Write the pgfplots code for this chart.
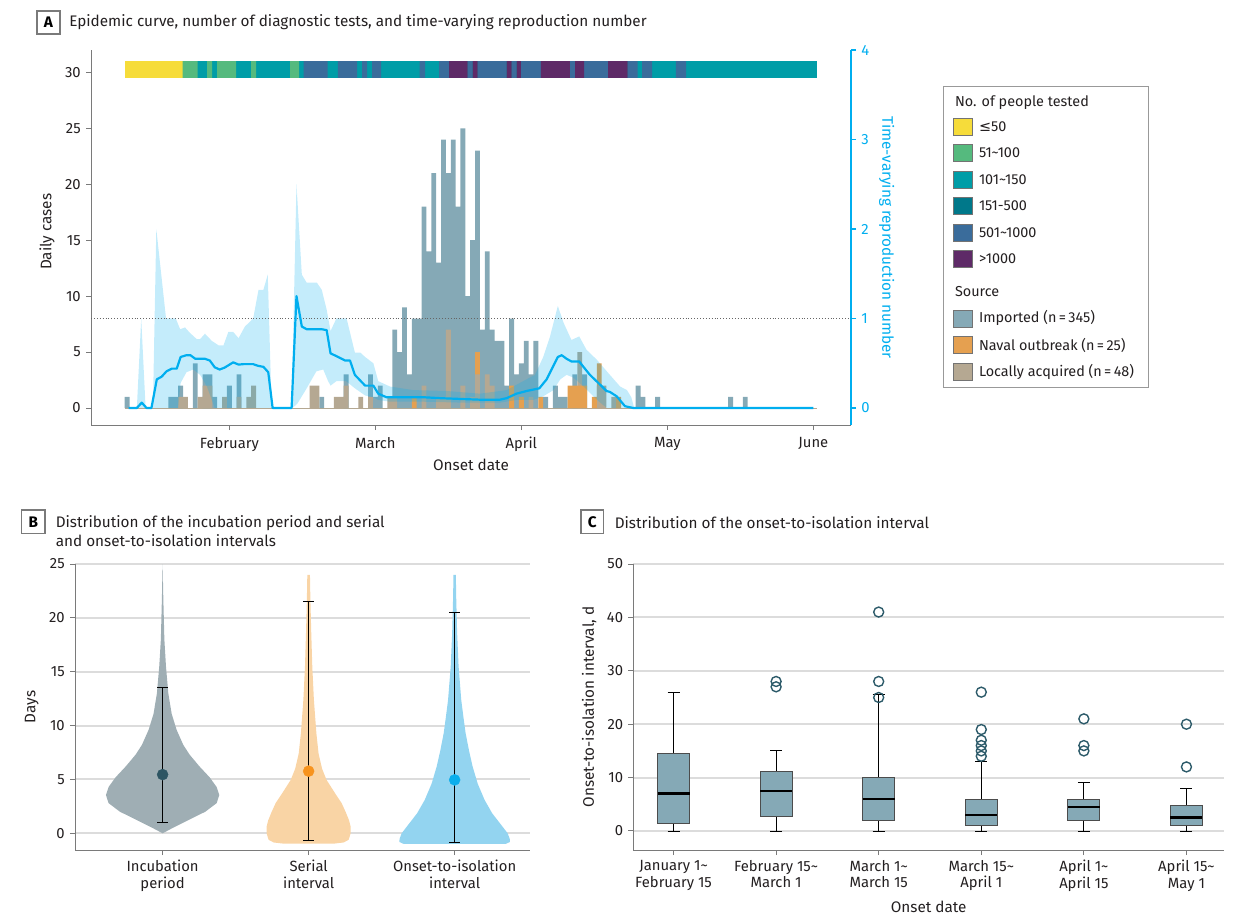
\documentclass[border=0pt]{standalone}
\usepackage{fontspec}
\setmainfont{Fira Sans}
\newfontfamily\symfont{DejaVu Sans}
\usepackage{pgfplots}
\pgfplotsset{compat=1.18}
\usepgfplotslibrary{statistics}
\definecolor{cyel}{HTML}{F6DC3A}
\definecolor{cgrn}{HTML}{55BA7E}
\definecolor{cteal}{HTML}{009DA7}
\definecolor{cdteal}{HTML}{00788A}
\definecolor{cblu}{HTML}{3A6C9B}
\definecolor{cpur}{HTML}{5E2A67}
\definecolor{cimp}{HTML}{85A9B6}
\definecolor{cnav}{HTML}{E5A050}
\definecolor{cloc}{HTML}{B5A892}
\definecolor{rblue}{HTML}{00AEEF}
\definecolor{axgray}{HTML}{7A7A7A}
\definecolor{gridg}{HTML}{DCDCDC}
\definecolor{vinc}{HTML}{9FAEB4}
\definecolor{vser}{HTML}{F9D4A5}
\definecolor{vons}{HTML}{93D4F0}
\definecolor{dinc}{HTML}{2D5563}
\definecolor{dser}{HTML}{F7931E}
\definecolor{dons}{HTML}{0BAEEC}
\definecolor{outc}{HTML}{2D5B6A}
\definecolor{txt}{HTML}{231F20}
\pgfplotsset{
  every axis/.append style={
    /pgf/number format/assume math mode=true,
    scale only axis,
    anchor=south west,
    tick align=outside,
    major tick length=5pt,
    axis line style={axgray, line width=1pt, -},
    tick style={axgray, line width=1pt},
    ticklabel style={text=txt, font=\fontsize{14.8}{16.5}\selectfont},
    label style={text=txt, font=\fontsize{15.3}{17}\selectfont},
  },
  bx/.style={black, mark=o, mark size=5pt, mark options={draw=outc, line width=1.4pt, fill=none, solid}},
}
\newcommand{\legfont}{\fontsize{14.4}{16}\selectfont}
\begin{document}
\fontsize{15.3}{17.5}\selectfont
\begin{tikzpicture}
\useasboundingbox (0,0) rectangle (1248pt,-918pt);

% ================= PANEL A : left axis (cases) =================
\begin{axis}[
  at={(91pt,-425pt)}, width=760pt, height=375pt,
  xmin=1.58, xmax=157.74, ymin=-1.52, ymax=32,
  axis x line*=bottom, axis y line*=left,
  xtick={30,60,90,120,150}, xticklabels={February,March,April,May,June},
  xticklabel style={yshift=-2pt},
  ytick={0,5,10,15,20,25,30},
  xlabel={Onset date}, ylabel={Daily cases},
  xlabel style={at={(axis description cs:0.5,-0.107)}, anchor=center},
  ylabel style={at={(axis description cs:-0.058,0.515)}, anchor=center},
  unbounded coords=jump,
]
% testing strip
\addplot[fill=cteal, draw=none] coordinates {(8.57,29.5) (150.75,29.5) (150.75,31) (8.57,31)} -- cycle;
\addplot[fill=cyel, draw=none] coordinates {(8.57,29.5) (20.43,29.5) (20.43,31) (8.57,31)} -- cycle;
\addplot[fill=cgrn, draw=none] coordinates {
 (20.43,29.5) (23.51,29.5) (23.51,31) (20.43,31) (nan,nan)
 (25.42,29.5) (26.45,29.5) (26.45,31) (25.42,31) (nan,nan)
 (27.47,29.5) (31.38,29.5) (31.38,31) (27.47,31) (nan,nan)
 (34.46,29.5) (35.49,29.5) (35.49,31) (34.46,31) (nan,nan)
 (42.47,29.5) (44.32,29.5) (44.32,31) (42.47,31)};
\addplot[fill=cblu, draw=none] coordinates {
 (45.29,29.5) (50.22,29.5) (50.22,31) (45.29,31) (nan,nan)
 (52.33,29.5) (56.24,29.5) (56.24,31) (52.33,31) (nan,nan)
 (57.27,29.5) (58.29,29.5) (58.29,31) (57.27,31) (nan,nan)
 (59.32,29.5) (61.17,29.5) (61.17,31) (59.32,31) (nan,nan)
 (69.12,29.5) (70.21,29.5) (70.21,31) (69.12,31) (nan,nan)
 (73.09,29.5) (75.14,29.5) (75.14,31) (73.09,31) (nan,nan)
 (78.98,29.5) (80.01,29.5) (80.01,31) (78.98,31) (nan,nan)
 (81.04,29.5) (87.00,29.5) (87.00,31) (81.04,31) (nan,nan)
 (88.02,29.5) (89.05,29.5) (89.05,31) (88.02,31) (nan,nan)
 (89.93,29.5) (94.04,29.5) (94.04,31) (89.93,31) (nan,nan)
 (100.00,29.5) (101.03,29.5) (101.03,31) (100.00,31) (nan,nan)
 (102.88,29.5) (107.81,29.5) (107.81,31) (102.88,31) (nan,nan)
 (111.86,29.5) (113.91,29.5) (113.91,31) (111.86,31) (nan,nan)
 (114.80,29.5) (116.85,29.5) (116.85,31) (114.80,31) (nan,nan)
 (121.78,29.5) (123.84,29.5) (123.84,31) (121.78,31)};
\addplot[fill=cpur, draw=none] coordinates {
 (75.14,29.5) (78.98,29.5) (78.98,31) (75.14,31) (nan,nan)
 (80.01,29.5) (81.04,29.5) (81.04,31) (80.01,31) (nan,nan)
 (87.00,29.5) (88.02,29.5) (88.02,31) (87.00,31) (nan,nan)
 (89.05,29.5) (89.93,29.5) (89.93,31) (89.05,31) (nan,nan)
 (94.04,29.5) (100.00,29.5) (100.00,31) (94.04,31) (nan,nan)
 (101.03,29.5) (102.88,29.5) (102.88,31) (101.03,31) (nan,nan)
 (107.81,29.5) (111.86,29.5) (111.86,31) (107.81,31)};
% zero baseline
\addplot[cloc, line width=1pt] coordinates {(8.6,0) (150.8,0)};
% imported
\addplot[ybar, bar width=1, bar shift=0pt, fill=cimp, draw=none] coordinates {
(9,1) (18,1) (19,1) (20,2) (23,4) (25,3) (26,3) (27,1) (30,2) (32,3) (49,1) (54,3)
(59,3) (60,1) (61,2) (64,7) (65,5) (66,9) (67,3) (68,8) (69,8) (70,18) (71,14)
(72,21) (73,13) (74,24) (75,21) (76,24) (77,18) (78,25) (79,10) (80,15) (81,23)
(82,7) (83,14) (84,7) (85,6) (86,6) (87,2) (88,8) (89,3) (90,4) (91,6) (92,3) (93,6)
(95,1) (97,2) (98,1) (99,1) (101,3) (103,3) (114,2) (115,1) (118,1) (133,1) (136,1)};
% naval (behind local)
\addplot[ybar, bar width=1, bar shift=0pt, fill=cnav, draw=none] coordinates {(81,5) (106,4)};
% locally acquired
\addplot[ybar, bar width=1, bar shift=0pt, fill=cloc, draw=none] coordinates {
(20,1) (21,1) (24,1) (25,2) (26,2) (29,1) (32,1) (34,1) (35,2) (47,2) (48,2) (52,1)
(53,1) (54,2) (57,1) (59,1) (63,1) (64,1) (70,2) (73,1) (74,1) (75,7) (78,2) (80,1)
(81,3) (83,3) (84,2) (92,1) (102,5) (106,2) (107,2) (109,1)};
% naval (front)
\addplot[ybar, bar width=1, bar shift=0pt, fill=cnav, draw=none] coordinates {
(68,1) (88,2) (90,1) (94,1) (100,2) (101,2) (102,2) (103,2) (105,1) (110,1)};
\end{axis}

% ================= PANEL A : right axis (Rt) =================
\begin{axis}[
  at={(91pt,-425pt)}, width=760pt, height=375pt,
  xmin=1.58, xmax=157.74, ymin=-0.19, ymax=4,
  axis x line=none, axis y line*=right,
  axis line style={rblue, line width=1.3pt},
  tick style={rblue, line width=1.3pt},
  ytick={0,1,2,3,4}, yticklabel style={text=rblue},
  ylabel={Time-varying reproduction number},
  ylabel style={text=rblue, at={(axis description cs:1.047,0.5)}, anchor=center, rotate=180},
]
\addplot[fill=rblue, fill opacity=0.23, draw=none] coordinates {
(9.3,0) (11,0) (11.9,1.0) (12.8,0) (14.3,0) (15,2.0) (17,1.0) (19,1.0) (19.9,0.88)
(20.9,0.9) (21.9,0.84) (23.3,0.77) (24,0.77) (25,0.83) (26.4,0.75) (27.8,0.70)
(28.8,0.70) (29.8,0.85) (30.8,0.85) (31.9,0.78) (33.2,0.91) (34.9,1.0) (36,1.32)
(37,1.32) (37.9,1.49) (38.7,0) (42.8,0) (43.8,2.5) (44.9,1.49) (45.9,1.40) (48,1.40)
(49,1.32) (50,1.10) (50.8,0.86) (52,1.0) (54.1,1.0) (55.8,0.62) (56.9,0.62)
(57.9,0.57) (59.6,0.50) (60.6,0.30) (63,0.24) (67.8,0.2) (74.7,0.19) (81.5,0.16)
(87,0.2) (89.7,0.28) (92.8,0.37) (94.5,0.57) (95.9,0.8) (97.5,1.14) (98.7,0.95)
(100.3,0.76) (101.9,0.8) (103.4,0.65) (105.5,0.54) (108.2,0.37) (110.3,0.24)
(111.7,0.2) (112.6,0.12) (113.2,0)
(107.6,0) (106.2,0.06) (104.8,0.13) (102.8,0.24) (100.7,0.34) (99.3,0.37) (98,0.32)
(96.6,0.2) (94.5,0.13) (92.4,0.09) (89,0.09) (85.6,0.06) (78,0.06) (70,0.07) (63,0.07)
(60.6,0.09) (59.6,0.12) (57.9,0.14) (55.8,0.22) (54,0.3) (52,0.3) (50.8,0.25)
(50.3,0.30) (49.3,0.43) (47.9,0.41) (45.9,0.22) (44,0.05) (43,0) (38.7,0) (27,0)
(26.4,0.09) (25.4,0.24) (24,0.37) (22.6,0.43) (21.2,0.40) (20,0.28) (19.5,0) (9.3,0)} -- cycle;
\addplot[black!60, dotted, line width=0.9pt] coordinates {(1.58,1) (157.74,1)};
\addplot[rblue, line width=2.2pt, line join=round] coordinates {
(9.3,0) (11,0) (12,0.06) (13,0) (14,0) (15.1,0.32) (16.1,0.35) (17.1,0.41) (18.2,0.44)
(19.2,0.44) (20,0.57) (21.2,0.59) (22,0.59) (23,0.55) (25,0.55) (26,0.53) (27,0.455)
(28,0.43) (29,0.45) (30.8,0.51) (31.9,0.485) (32.9,0.49) (34.9,0.49) (36,0.47)
(37,0.46) (38,0.40) (38.9,0) (42.8,0) (43.8,1.25) (44.9,0.91) (45.9,0.88) (49,0.88)
(50,0.87) (50.8,0.61) (52,0.58) (53.8,0.53) (54.8,0.53) (55.8,0.37) (57.9,0.25)
(59.6,0.25) (60.6,0.16) (62.3,0.12) (65,0.12) (70,0.12) (73.3,0.11) (78,0.10)
(81.5,0.093) (85.6,0.093) (87,0.11) (89,0.16) (91.1,0.19) (93.7,0.22) (95.2,0.32)
(96.4,0.45) (97.5,0.57) (98.3,0.59) (99.3,0.55) (100.3,0.52) (101.9,0.52) (102.9,0.45)
(104.1,0.37) (106.2,0.26) (107.5,0.19) (108.2,0.18) (109.6,0.13) (111.3,0.02) (113,0)
(150,0)};
\end{axis}

% ================= PANEL B : violins =================
\begin{axis}[
  at={(75pt,-850pt)}, width=455pt, height=286pt,
  xmin=0.4, xmax=3.516, ymin=-1.55, ymax=25,
  axis x line*=bottom, axis y line*=left,
  xtick={1,2,3},
  xticklabels={{Incubation\\period},{Serial\\interval},{Onset-to-isolation\\interval}},
  xticklabel style={align=center},
  ytick={0,5,10,15,20,25}, ymajorgrids, grid style={gridg, line width=2pt},
  ylabel={Days},
  ylabel style={at={(axis description cs:-0.095,0.5)}, anchor=center},
]
\addplot[fill=vinc, draw=none] coordinates {
(1,0) (1.064,0.46) (1.178,1.24) (1.292,2.0) (1.370,2.8) (1.388,3.55) (1.370,4.3)
(1.322,5.2) (1.253,6.2) (1.185,7.3) (1.142,8.2) (1.096,9.6) (1.062,11.1) (1.039,13)
(1.023,15.5) (1.012,18) (1.005,21.7) (1,25)
(0.995,21.7) (0.988,18) (0.977,15.5) (0.961,13) (0.938,11.1) (0.904,9.6) (0.858,8.2)
(0.815,7.3) (0.747,6.2) (0.678,5.2) (0.630,4.3) (0.612,3.55) (0.630,2.8) (0.708,2.0)
(0.822,1.24) (0.936,0.46)} -- cycle;
\addplot[fill=vser, draw=none] coordinates {
(2.178,-0.95) (2.24,-0.85) (2.274,-0.6) (2.288,0) (2.288,0.6) (2.277,1.2) (2.253,2.0)
(2.226,2.8) (2.182,3.7) (2.123,4.95) (2.092,6.0) (2.068,7.4) (2.053,9.3) (2.036,12.4)
(2.025,15.5) (2.018,18.6) (2.012,21.7) (2.009,24)
(1.991,24) (1.988,21.7) (1.982,18.6) (1.975,15.5) (1.964,12.4) (1.947,9.3) (1.932,7.4)
(1.908,6.0) (1.877,4.95) (1.818,3.7) (1.774,2.8) (1.747,2.0) (1.723,1.2) (1.712,0.6)
(1.712,0) (1.726,-0.6) (1.76,-0.85) (1.822,-0.95)} -- cycle;
\addplot[fill=vons, draw=none] coordinates {
(3.35,-0.98) (3.379,-0.8) (3.377,-0.5) (3.363,0) (3.329,0.6) (3.257,1.86) (3.205,3.1)
(3.158,4.6) (3.123,6.2) (3.098,7.7) (3.075,9.3) (3.060,10.8) (3.045,12.4) (3.027,15.5)
(3.017,18.6) (3.011,21.7) (3.008,24)
(2.992,24) (2.989,21.7) (2.983,18.6) (2.973,15.5) (2.955,12.4) (2.940,10.8) (2.925,9.3)
(2.902,7.7) (2.877,6.2) (2.842,4.6) (2.795,3.1) (2.743,1.86) (2.671,0.6) (2.637,0)
(2.623,-0.5) (2.621,-0.8) (2.65,-0.98)} -- cycle;
% error bars
\addplot[black, line width=1pt] coordinates {(1,1.0) (1,13.5)};
\addplot[black, line width=1pt] coordinates {(0.962,13.5) (1.038,13.5)};
\addplot[black, line width=1pt] coordinates {(0.962,1.0) (1.038,1.0)};
\addplot[black, line width=1pt] coordinates {(2,-0.65) (2,21.5)};
\addplot[black, line width=1pt] coordinates {(1.962,21.5) (2.038,21.5)};
\addplot[black, line width=1pt] coordinates {(1.962,-0.65) (2.038,-0.65)};
\addplot[black, line width=1pt] coordinates {(3,-0.85) (3,20.5)};
\addplot[black, line width=1pt] coordinates {(2.962,20.5) (3.038,20.5)};
\addplot[black, line width=1pt] coordinates {(2.962,-0.85) (3.038,-0.85)};
% means
\addplot[only marks, mark=*, mark size=5.5pt, color=dinc] coordinates {(1,5.45)};
\addplot[only marks, mark=*, mark size=5.5pt, color=dser] coordinates {(2,5.77)};
\addplot[only marks, mark=*, mark size=5.5pt, color=dons] coordinates {(3,4.96)};
\end{axis}

% ================= PANEL C : boxplots =================
\begin{axis}[
  at={(633.4pt,-850pt)}, width=590.6pt, height=286pt,
  xmin=0.609, xmax=6.366, ymin=-3.56, ymax=50,
  axis x line*=bottom, axis y line*=left,
  xtick={1,2,3,4,5,6},
  xticklabels={{January 1\textasciitilde\\February 15},{February 15\textasciitilde\\March 1},
    {March 1\textasciitilde\\March 15},{March 15\textasciitilde\\April 1},
    {April 1\textasciitilde\\April 15},{April 15\textasciitilde\\May 1}},
  xticklabel style={align=center},
  ytick={0,10,20,30,40,50}, ymajorgrids, grid style={gridg, line width=2pt},
  xlabel={Onset date}, ylabel={Onset-to-isolation interval, d},
  xlabel style={at={(axis description cs:0.5,-0.199)}, anchor=center},
  ylabel style={at={(axis description cs:-0.075,0.5)}, anchor=center},
  boxplot/draw direction=y,
  boxplot/box extend=0.312, boxplot/whisker extend=0.117,
  boxplot/every box/.style={fill=cimp, draw=black!70, line width=0.9pt},
  boxplot/every median/.style={black, line width=2.6pt},
  boxplot/every whisker/.style={black, line width=0.9pt},
]
\addplot[bx, boxplot prepared={draw position=1, lower whisker=0, lower quartile=1.5,
  median=7, upper quartile=14.5, upper whisker=26}] coordinates {};
\addplot[bx, boxplot prepared={draw position=2, lower whisker=0, lower quartile=2.75,
  median=7.5, upper quartile=11.2, upper whisker=15}] table[row sep=\\,y index=0] {data\\27\\28\\};
\addplot[bx, boxplot prepared={draw position=3, lower whisker=0, lower quartile=2,
  median=6, upper quartile=10, upper whisker=25.5}] table[row sep=\\,y index=0] {data\\25\\28\\41\\};
\addplot[bx, boxplot prepared={draw position=4, lower whisker=0, lower quartile=1,
  median=3, upper quartile=6, upper whisker=13}] table[row sep=\\,y index=0] {data\\14\\15\\16\\17\\19\\26\\};
\addplot[bx, boxplot prepared={draw position=5, lower whisker=0, lower quartile=2,
  median=4.5, upper quartile=6, upper whisker=9}] table[row sep=\\,y index=0] {data\\15\\16\\21\\};
\addplot[bx, boxplot prepared={draw position=6, lower whisker=0, lower quartile=1,
  median=2.5, upper quartile=4.8, upper whisker=8}] table[row sep=\\,y index=0] {data\\12\\20\\};
\end{axis}

% ================= titles, labels, legend =================
\begin{scope}[x=1pt,y=-1pt]
\draw[axgray, line width=1.2pt] (37,11) rectangle (60,34);
\node[font=\bfseries] at (48.5,22.5) {A};
\node[anchor=west, text=txt] at (64,22.5) {Epidemic curve, number of diagnostic tests, and time-varying reproduction number};

\draw[axgray, line width=1.2pt] (21.7,510) rectangle (45,533.3);
\node[font=\bfseries] at (33.3,521.7) {B};
\node[anchor=west, text=txt] at (50.5,522.7) {Distribution of the incubation period and serial};
\node[anchor=west, text=txt] at (50.5,540.5) {and onset-to-isolation intervals};

\draw[axgray, line width=1.2pt] (581,510) rectangle (603.6,533.3);
\node[font=\bfseries] at (592.3,521.7) {C};
\node[anchor=west, text=txt] at (609.5,522.7) {Distribution of the onset-to-isolation interval};

% legend
\draw[black!40, line width=1pt] (943,86) rectangle (1148,387);
\begin{scope}[every node/.style={anchor=west, text=txt, font=\legfont}]
\node at (949.7,102.5) {No. of people tested};
\draw[black!55, fill=cyel] (953,118.2) rectangle (972,135.2);
\node at (973.7,126.7) {{\symfont ≤}50};
\draw[black!55, fill=cgrn] (953,144.2) rectangle (972,161.2);
\node at (973.7,152.7) {51\textasciitilde100};
\draw[black!55, fill=cteal] (953,170.8) rectangle (972,187.8);
\node at (973.7,179.3) {101\textasciitilde150};
\draw[black!55, fill=cdteal] (953,197.2) rectangle (972,214.2);
\node at (973.7,205.7) {151-500};
\draw[black!55, fill=cblu] (953,223.8) rectangle (972,240.8);
\node at (973.7,232.3) {501\textasciitilde1000};
\draw[black!55, fill=cpur] (953,250.5) rectangle (972,267.5);
\node at (973.7,259) {>1000};
\node at (949.7,291.7) {Source};
\draw[black!55, fill=cimp] (953,309.8) rectangle (972,326.8);
\node at (973.7,318.3) {Imported (n\,=\,345)};
\draw[black!55, fill=cnav] (953,336.5) rectangle (972,353.5);
\node at (973.7,345) {Naval outbreak (n\,=\,25)};
\draw[black!55, fill=cloc] (953,363.2) rectangle (972,380.2);
\node at (973.7,371.7) {Locally acquired (n\,=\,48)};
\end{scope}
\end{scope}
\end{tikzpicture}
\end{document}
